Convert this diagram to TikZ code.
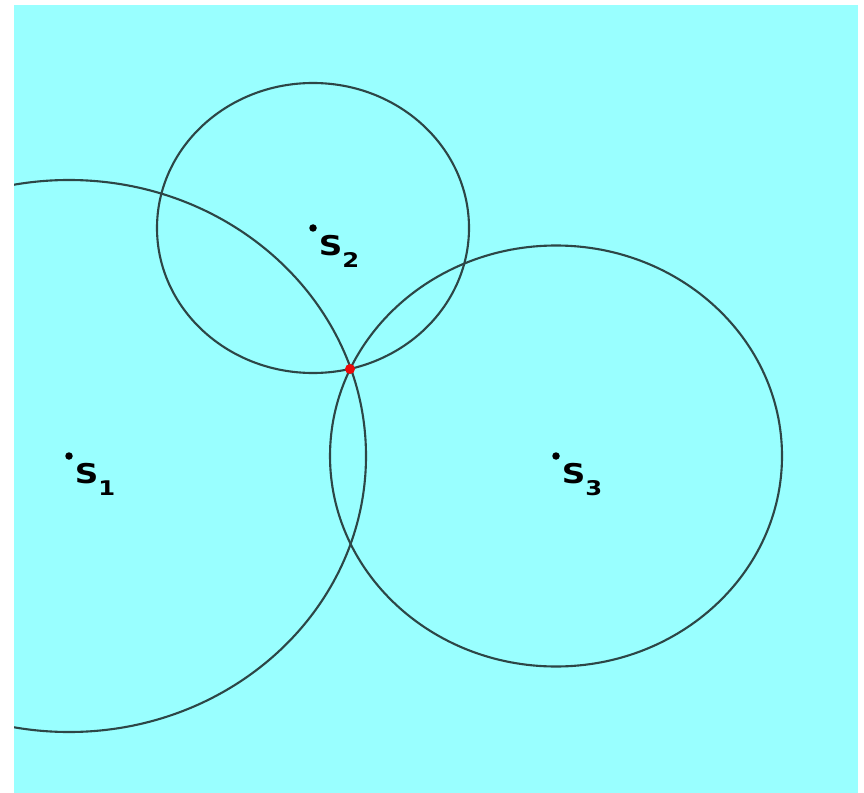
\documentclass[tikz,border=0pt]{standalone}
\usepackage{fontspec}
\newfontfamily\labelfont[FakeStretch=1.2]{DejaVu Sans}
\definecolor{skycyan}{RGB}{153,255,255}
\definecolor{ringgrey}{RGB}{45,70,70}
\definecolor{hitred}{RGB}{235,10,10}
\usetikzlibrary{positioning}
\tikzset{
  site/.style={circle,fill=black,inner sep=0pt,minimum size=0.15cm},
  sitelabel/.style={inner sep=0pt,font=\labelfont\bfseries\fontsize{15.5}{16}\selectfont},
  ring/.style={draw=ringgrey,line width=1.2pt}
}
\newcommand{\sitename}[1]{S\raisebox{-7pt}{\fontsize{11.5}{12}\selectfont #1}}

\begin{document}
\begin{tikzpicture}[x=0.02cm,y=-0.02cm]
  \useasboundingbox (0,0) rectangle (864,793);
  \fill[skycyan] (14,5) rectangle (858,793);
  % the three sites
  \node[site] (s1) at (69,456) {};
  \node[site] (s2) at (313,228) {};
  \node[site] (s3) at (556,456) {};
  % range circles
  \begin{scope}
    \clip (14,5) rectangle (858,793);
    \draw[ring] (s1.center) ellipse [x radius=297, y radius=276];
    \draw[ring] (s2.center) ellipse [x radius=156, y radius=145];
    \draw[ring] (s3.center) ellipse [x radius=226, y radius=210.5];
  \end{scope}
  \node[sitelabel,below right=0.08cm and 0.05cm of s1] (l1) {\sitename{1}};
  \node[sitelabel,below right=0.08cm and 0.05cm of s2] (l2) {\sitename{2}};
  \node[sitelabel,below right=0.08cm and 0.05cm of s3] (l3) {\sitename{3}};
  % common point
  \node[circle,fill=hitred,inner sep=0pt,minimum size=0.2cm] (hit) at (350,369) {};
\end{tikzpicture}
\end{document}
